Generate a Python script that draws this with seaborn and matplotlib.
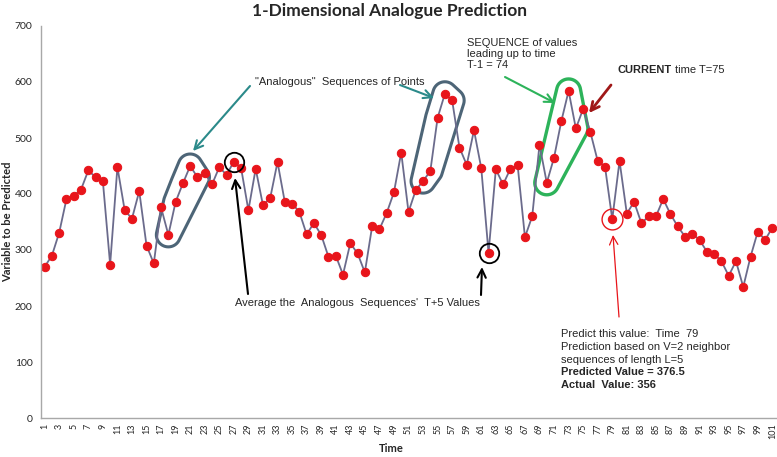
import numpy as np
import pandas as pd
import matplotlib
matplotlib.use("Agg")
import matplotlib.pyplot as plt
import seaborn as sns
from matplotlib.patches import Polygon

# series (time 1..101)
times = list(range(1, 102))
values = [
    270, 290, 331, 391, 397, 408, 442, 430, 423, 274,
    448, 371, 356, 405, 308, 276, 376, 327, 386, 419,
    450, 430, 437, 417, 448, 434, 458, 446, 371, 445,
    380, 393, 457, 386, 383, 368, 328, 348, 327, 288,
    290, 256, 312, 294, 260, 342, 337, 366, 403, 474,
    368, 407, 423, 441, 536, 579, 567, 483, 452, 514,
    446, 295, 444, 417, 445, 451, 323, 360, 488, 420,
    465, 530, 584, 517, 552, 510, 459, 449, 355, 459,
    365, 386, 348, 360, 360, 391, 364, 342, 324, 329,
    318, 297, 293, 280, 254, 280, 234, 288, 333, 318,
    340,
]
tick_labels = [str(t) for t in times[::2]]
analog_1 = [18, 19, 20, 21, 22]
analog_2 = [53, 54, 55, 56, 57]
current_seq = [70, 71, 72, 73, 74]
analog_next = [27, 62]
predict_t = 79

W, H = 777, 457
LINE = "#6b6b8c"
RED = "#e8151b"
TEAL = "#2b8a8a"
BLOB = "#4d6577"
GREEN = "#2db35a"


def px(x, y):
    return (x / W, 1 - y / H)


def hull(points):
    pts = sorted(map(tuple, points))
    def half(seq):
        out = []
        for p in seq:
            while len(out) >= 2 and ((out[-1][0] - out[-2][0]) * (p[1] - out[-2][1])
                                     - (out[-1][1] - out[-2][1]) * (p[0] - out[-2][0])) <= 0:
                out.pop()
            out.append(p)
        return out
    lower = half(pts)
    upper = half(reversed(pts))
    return np.array(lower[:-1] + upper[:-1])


def blob(ax, idx, color, pad=11, lw=2.2):
    sel = [i - 1 for i in idx]
    pts = ax.transData.transform(np.column_stack([np.array(times)[sel], np.array(values)[sel]]))
    ang = np.linspace(0, 2 * np.pi, 48, endpoint=False)
    ring = np.concatenate([p + pad * np.column_stack([np.cos(ang), np.sin(ang)]) for p in pts])
    outline = ax.transData.inverted().transform(hull(ring))
    ax.add_patch(Polygon(outline, closed=True, fill=False, ec=color, lw=lw, joinstyle="round"))


sns.set_style("white")
plt.rcParams["font.family"] = ["Lato", "DejaVu Sans"]

df = pd.DataFrame({"Time": times, "Value": values})

fig = plt.figure(figsize=(W / 100, H / 100), dpi=100)
ax = fig.add_axes([41 / W, 1 - 418 / H, (776 - 41) / W, (418 - 26) / H])

sns.lineplot(data=df, x="Time", y="Value", ax=ax, color=LINE, linewidth=1.3,
             marker="o", markersize=6, markerfacecolor=RED, markeredgecolor=RED)

ax.set_xlim(0.5, 101.5)
ax.set_ylim(0, 700)
ax.set_yticks(range(0, 701, 100))
ax.set_xticks(times[::2])
ax.set_xticklabels(tick_labels, rotation=90, fontsize=6.5)
ax.tick_params(axis="y", labelsize=7.5, length=3, color="#a0a0a0", pad=3)
ax.tick_params(axis="x", length=0, pad=4)
for s in ["top", "right"]:
    ax.spines[s].set_visible(False)
for s in ["left", "bottom"]:
    ax.spines[s].set_color("#a8a8a8")
    ax.spines[s].set_linewidth(1)
ax.set_xlabel("")
ax.set_ylabel("")

fig.text(*px(8, 222), "Variable to be Predicted", rotation=90, fontsize=8,
         fontweight="bold", ha="center", va="center")
fig.text(*px(391, 449), "Time", fontsize=8, fontweight="bold", ha="center", va="center")
fig.text(*px(390, 11), "1-Dimensional Analogue Prediction", fontsize=12.5,
         fontweight="bold", ha="center", va="center")

# outlined sequences
blob(ax, analog_1, BLOB, pad=12)
blob(ax, analog_2, BLOB, pad=12)
blob(ax, current_seq, GREEN, pad=12, lw=2.4)

# circled points
sel_next = [values[i - 1] for i in analog_next]
ax.plot(analog_next, sel_next, "o", ms=14, mfc="none", mec="black", mew=1.3)
ax.plot([predict_t], [values[predict_t - 1]], "o", ms=15, mfc="none", mec=RED, mew=1)

ann = ["Liberation Sans", "DejaVu Sans"]


def arrow(x0, y0, x1, y1, color, lw=1.5):
    ax.annotate("", xy=px(x1, y1), xycoords="figure fraction",
                xytext=px(x0, y0), textcoords="figure fraction",
                arrowprops=dict(arrowstyle="->,head_length=0.6,head_width=0.3",
                                color=color, lw=lw, shrinkA=0, shrinkB=0))


fig.text(*px(255, 82), '"Analogous"  Sequences of Points', fontsize=8, family=ann,
         ha="left", va="center")
arrow(250, 86, 193, 151, TEAL)
arrow(400, 85, 434, 98, TEAL)

fig.text(*px(235, 303), "Average the  Analogous  Sequences'  T+5 Values", fontsize=8,
         family=ann, ha="left", va="center")
arrow(248, 294, 235, 178, "black")
arrow(481, 295, 482, 267, "black")

fig.text(*px(467, 54), "SEQUENCE of values\nleading up to time\nT-1 = 74", fontsize=8,
         family=ann, ha="left", va="center", linespacing=1.15)
arrow(505, 77, 555, 103, GREEN)

cur = fig.text(*px(618, 70), "CURRENT", fontsize=8, family=ann, fontweight="bold",
               ha="left", va="center")
fig.canvas.draw()
cur_right = cur.get_window_extent().x1
fig.text(cur_right / W + 3 / W, 1 - 70 / H, "time T=75", fontsize=8, family=ann,
         ha="left", va="center")
arrow(611, 85, 589, 113, "#a01818", lw=2)

arrow(619, 317, 613, 235, RED, lw=0.9)
block = [
    ("Predict this value:  Time  79", "normal"),
    ("Prediction based on V=2 neighbor", "normal"),
    ("sequences of length L=5", "normal"),
    ("Predicted Value = 376.5", "bold"),
    ("Actual  Value: 356", "bold"),
]
for k, (line, weight) in enumerate(block):
    fig.text(*px(561, 334 + 12.8 * k), line, fontsize=8, family=ann,
             fontweight=weight, ha="left", va="center")

fig.savefig("out.png", dpi=100)
